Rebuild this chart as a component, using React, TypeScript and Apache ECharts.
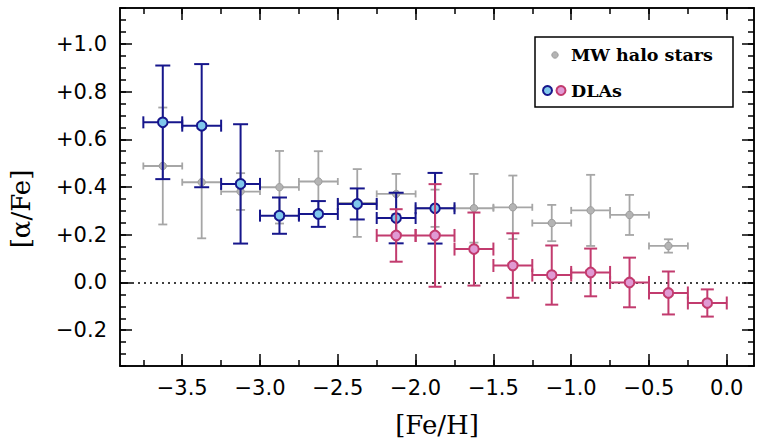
import React, { useEffect, useRef } from "react";
import * as echarts from "echarts";

// MW halo stars (grey)
const mwFeH = [-3.625, -3.375, -3.125, -2.875, -2.625, -2.375, -2.125, -1.875, -1.625, -1.375, -1.125, -0.875, -0.625, -0.375];
const mwAlpha = [0.488, 0.42, 0.381, 0.399, 0.423, 0.333, 0.371, 0.311, 0.311, 0.315, 0.249, 0.302, 0.283, 0.153];
const mwErr = [0.245, 0.235, 0.077, 0.152, 0.127, 0.142, 0.084, 0.078, 0.144, 0.133, 0.076, 0.149, 0.084, 0.028];

// DLAs (blue)
const dlaBlueFeH = [-3.625, -3.375, -3.125, -2.875, -2.625, -2.375, -2.125, -1.875];
const dlaBlueAlpha = [0.671, 0.657, 0.413, 0.28, 0.287, 0.329, 0.27, 0.311];
const dlaBlueErr = [0.238, 0.258, 0.25, 0.076, 0.054, 0.065, 0.106, 0.148];

// DLAs (pink)
const dlaPinkFeH = [-2.125, -1.875, -1.625, -1.375, -1.125, -0.875, -0.625, -0.375, -0.125];
const dlaPinkAlpha = [0.197, 0.197, 0.14, 0.071, 0.031, 0.042, 0.0, -0.044, -0.086];
const dlaPinkErr = [0.11, 0.215, 0.153, 0.135, 0.124, 0.1, 0.104, 0.09, 0.057];

const binHalfWidth = 0.125;

const xMajorTicks = [-3.5, -3.0, -2.5, -2.0, -1.5, -1.0, -0.5, 0.0];
const xMinorTicks = [-3.75, -3.5, -3.25, -3.0, -2.75, -2.5, -2.25, -2.0, -1.75, -1.5, -1.25, -1.0, -0.75, -0.5, -0.25, 0.0];
const yMajorTicks = [-0.2, 0.0, 0.2, 0.4, 0.6, 0.8, 1.0];
const yMinorTicks = [-0.35, -0.3, -0.25, -0.2, -0.15, -0.1, -0.05, 0.0, 0.05, 0.1, 0.15, 0.2, 0.25, 0.3, 0.35, 0.4, 0.45, 0.5, 0.55, 0.6, 0.65, 0.7, 0.75, 0.8, 0.85, 0.9, 0.95, 1.0, 1.05, 1.1, 1.15];

const X_MIN = -3.9;
const X_MAX = 0.175;
const Y_MIN = -0.35;
const Y_MAX = 1.15;

const GREY_LINE = "#a6a6a6";
const GREY_FILL = "#b4b4b4";
const BLUE_LINE = "#16168c";
const BLUE_FILL = "#80c8ec";
const PINK_LINE = "#c23b6e";
const PINK_FILL = "#e09ad4";

const minus = "\u2212";
const fmtX = (v: number) => (Math.abs(v) < 1e-9 ? "0.0" : (v < 0 ? minus : "+") + Math.abs(v).toFixed(1));
const fmtY = (v: number) => (Math.abs(v) < 1e-9 ? "0.0" : (v < 0 ? minus : "+") + Math.abs(v).toFixed(1));

function makeRender(lineColor: string, fillColor: string, strokeColor: string, capV: number, capH: number, r: number, lw: number, sw: number) {
  return (params: any, api: any) => {
    const x = api.value(0);
    const y = api.value(1);
    const ex = api.value(2);
    const ey = api.value(3);
    const c = api.coord([x, y]);
    const l = api.coord([x - ex, y]);
    const rr = api.coord([x + ex, y]);
    const t = api.coord([x, y + ey]);
    const b = api.coord([x, y - ey]);
    const st = { stroke: lineColor, lineWidth: lw };
    return {
      type: "group",
      children: [
        { type: "line", shape: { x1: l[0], y1: l[1], x2: rr[0], y2: rr[1] }, style: st },
        { type: "line", shape: { x1: l[0], y1: l[1] - capH, x2: l[0], y2: l[1] + capH }, style: st },
        { type: "line", shape: { x1: rr[0], y1: rr[1] - capH, x2: rr[0], y2: rr[1] + capH }, style: st },
        { type: "line", shape: { x1: t[0], y1: t[1], x2: b[0], y2: b[1] }, style: st },
        { type: "line", shape: { x1: t[0] - capV, y1: t[1], x2: t[0] + capV, y2: t[1] }, style: st },
        { type: "line", shape: { x1: b[0] - capV, y1: b[1], x2: b[0] + capV, y2: b[1] }, style: st },
        { type: "circle", shape: { cx: c[0], cy: c[1], r }, style: { fill: fillColor, stroke: strokeColor, lineWidth: sw } },
      ],
    };
  };
}

function build(xs: number[], ys: number[], es: number[]) {
  return xs.map((x, i) => [x, ys[i], binHalfWidth, es[i]]);
}

const axisLineStyle = { color: "#000", width: 1.5 };

export default function App() {
  const ref = useRef<HTMLDivElement>(null);
  useEffect(() => {
    if (!ref.current) return;
    const chart = echarts.init(ref.current, undefined, { renderer: "svg" });
    const baseX = { type: "value", min: X_MIN, max: X_MAX, splitLine: { show: false }, axisLine: { show: true, onZero: false, lineStyle: axisLineStyle } };
    const baseY = { type: "value", min: Y_MIN, max: Y_MAX, splitLine: { show: false }, axisLine: { show: true, onZero: false, lineStyle: axisLineStyle } };
    const option: any = {
      animation: false,
      backgroundColor: "#fff",
      grid: { left: 120, right: 9, top: 8, bottom: 76, containLabel: false },
      xAxis: [
        {
          ...baseX,
          position: "bottom",
          axisTick: { show: true, inside: true, length: 12, customValues: xMajorTicks, lineStyle: { color: "#000", width: 1.5 } },
          axisLabel: { show: true, customValues: xMajorTicks, formatter: fmtX, margin: 11, color: "#000", fontSize: 21, fontFamily: "DejaVu Sans" },
        },
        {
          ...baseX,
          position: "bottom",
          axisTick: { show: true, inside: true, length: 6, customValues: xMinorTicks, lineStyle: { color: "#000", width: 1.5 } },
          axisLabel: { show: false },
        },
        {
          ...baseX,
          position: "top",
          axisTick: { show: true, inside: true, length: 12, customValues: xMajorTicks, lineStyle: { color: "#000", width: 1.5 } },
          axisLabel: { show: false },
        },
        {
          ...baseX,
          position: "top",
          axisTick: { show: true, inside: true, length: 6, customValues: xMinorTicks, lineStyle: { color: "#000", width: 1.5 } },
          axisLabel: { show: false },
        },
      ],
      yAxis: [
        {
          ...baseY,
          position: "left",
          axisTick: { show: true, inside: true, length: 12, customValues: yMajorTicks, lineStyle: { color: "#000", width: 1.5 } },
          axisLabel: { show: true, customValues: yMajorTicks, formatter: fmtY, margin: 13, color: "#000", fontSize: 21, fontFamily: "DejaVu Sans" },
        },
        {
          ...baseY,
          position: "left",
          axisTick: { show: true, inside: true, length: 6, customValues: yMinorTicks, lineStyle: { color: "#000", width: 1.5 } },
          axisLabel: { show: false },
        },
        {
          ...baseY,
          position: "right",
          axisTick: { show: true, inside: true, length: 12, customValues: yMajorTicks, lineStyle: { color: "#000", width: 1.5 } },
          axisLabel: { show: false },
        },
        {
          ...baseY,
          position: "right",
          axisTick: { show: true, inside: true, length: 6, customValues: yMinorTicks, lineStyle: { color: "#000", width: 1.5 } },
          axisLabel: { show: false },
        },
      ],
      series: [
        {
          name: "MW halo stars",
          type: "custom",
          xAxisIndex: 0,
          yAxisIndex: 0,
          renderItem: makeRender(GREY_LINE, GREY_FILL, "#9c9c9c", 4.5, 3.5, 3.7, 1.8, 1),
          data: build(mwFeH, mwAlpha, mwErr),
          z: 2,
          markLine: {
            silent: true,
            symbol: "none",
            label: { show: false },
            lineStyle: { color: "#000", width: 1.5, type: [2, 4] },
            data: [{ yAxis: 0 }],
            z: 1,
          },
        },
        {
          name: "DLAs",
          type: "custom",
          xAxisIndex: 0,
          yAxisIndex: 0,
          renderItem: makeRender(BLUE_LINE, BLUE_FILL, BLUE_LINE, 7.5, 6, 4.8, 2, 2),
          data: build(dlaBlueFeH, dlaBlueAlpha, dlaBlueErr),
          z: 3,
        },
        {
          name: "DLAs ",
          type: "custom",
          xAxisIndex: 0,
          yAxisIndex: 0,
          renderItem: makeRender(PINK_LINE, PINK_FILL, PINK_LINE, 6.5, 6.5, 4.8, 2, 2),
          data: build(dlaPinkFeH, dlaPinkAlpha, dlaPinkErr),
          z: 4,
        },
      ],
      graphic: [
        {
          type: "text",
          x: 437,
          y: 425,
          style: { text: "[Fe/H]", font: "26px 'DejaVu Serif'", fill: "#000", align: "center", verticalAlign: "middle" },
        },
        {
          type: "text",
          x: 21,
          y: 209,
          rotation: Math.PI / 2,
          style: { text: "[\u03b1/Fe]", font: "26px 'DejaVu Serif'", fill: "#000", align: "center", verticalAlign: "middle" },
        },
        {
          type: "rect",
          shape: { x: 535, y: 37, width: 198, height: 70 },
          style: { fill: "#fff", stroke: "#000", lineWidth: 1.5 },
          z: 10,
        },
        {
          type: "circle",
          shape: { cx: 555, cy: 55, r: 3.2 },
          style: { fill: GREY_FILL, stroke: "#9c9c9c", lineWidth: 1 },
          z: 11,
        },
        {
          type: "text",
          x: 571,
          y: 55,
          style: { text: "MW halo stars", font: "bold 17.5px 'DejaVu Serif'", fill: "#000", align: "left", verticalAlign: "middle" },
          z: 11,
        },
        {
          type: "circle",
          shape: { cx: 547.5, cy: 90.5, r: 4.5 },
          style: { fill: BLUE_FILL, stroke: BLUE_LINE, lineWidth: 2 },
          z: 11,
        },
        {
          type: "circle",
          shape: { cx: 561, cy: 90.5, r: 4.5 },
          style: { fill: PINK_FILL, stroke: PINK_LINE, lineWidth: 2 },
          z: 11,
        },
        {
          type: "text",
          x: 571,
          y: 91,
          style: { text: "DLAs", font: "bold 17.5px 'DejaVu Serif'", fill: "#000", align: "left", verticalAlign: "middle" },
          z: 11,
        },
      ],
    };
    chart.setOption(option);
    return () => chart.dispose();
  }, []);
  return <div ref={ref} style={{ width: 763, height: 442, position: "absolute", left: 0, top: 0 }} />;
}
